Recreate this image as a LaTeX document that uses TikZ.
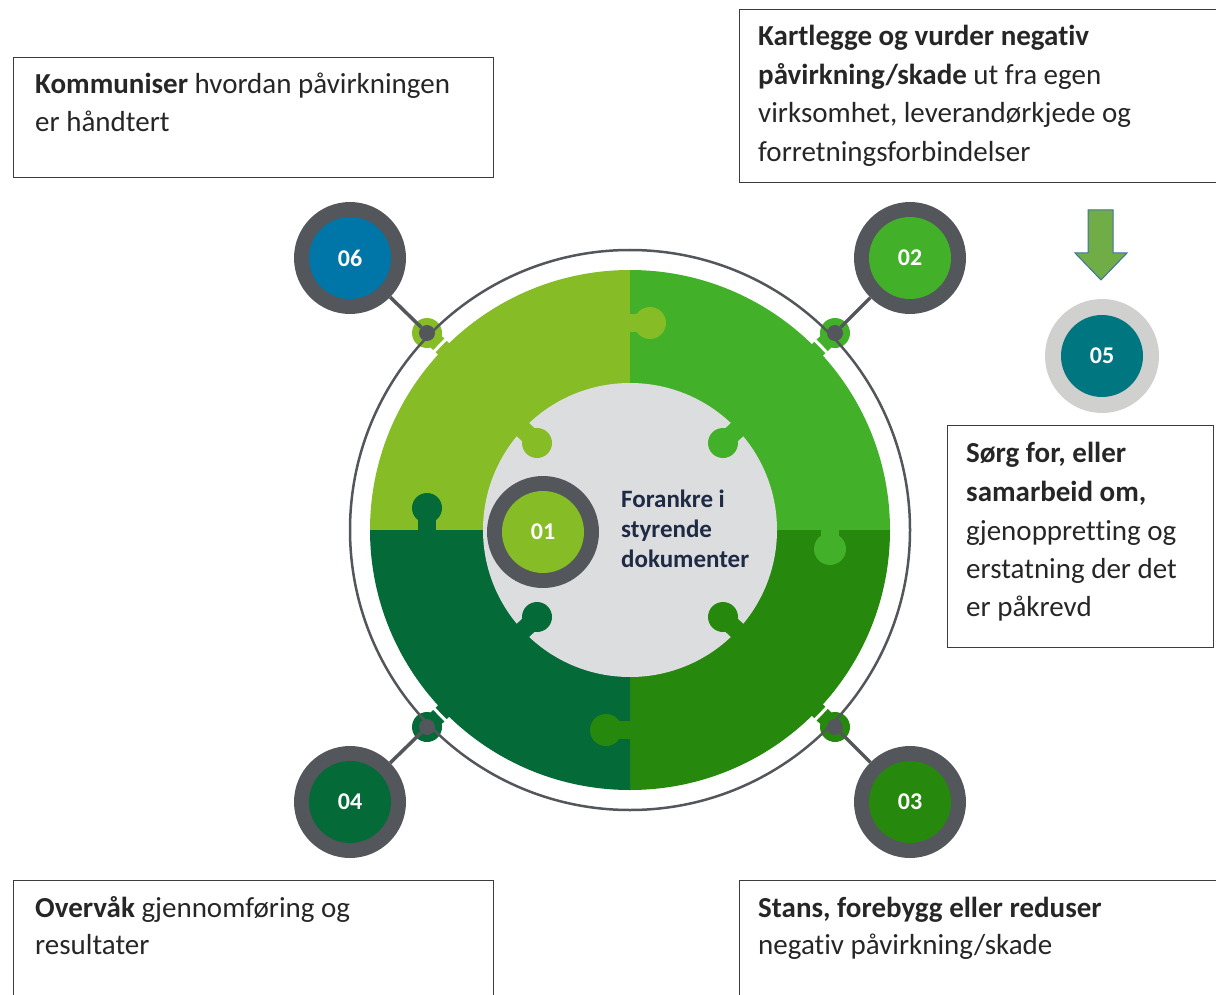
\documentclass[tikz,border=0pt]{standalone}
\usepackage{fontspec}
\setmainfont{Carlito}[Ligatures={NoCommon,NoRequired,NoContextual}]
\definecolor{gA}{HTML}{86BC25}
\definecolor{gB}{HTML}{43B02A}
\definecolor{gC}{HTML}{26890D}
\definecolor{gD}{HTML}{046A38}
\definecolor{bluC}{HTML}{0076A8}
\definecolor{tealC}{HTML}{007680}
\definecolor{dg}{HTML}{53565A}
\definecolor{lg}{HTML}{D0D0CE}
\definecolor{discC}{HTML}{DCDDDF}
\definecolor{navyC}{HTML}{1F2A44}
\definecolor{arrowF}{HTML}{70AD47}
\definecolor{arrowD}{HTML}{41719C}
\definecolor{boxD}{HTML}{3C3C3C}
\definecolor{txtC}{HTML}{262626}
\tikzset{
  numring/.style={circle, fill=dg, minimum size=112pt, inner sep=0pt},
  numcore/.style={circle, minimum size=82pt, inner sep=0pt, text=white, font=\fontsize{24}{24}\selectfont\bfseries},
  dotnode/.style={circle, fill=dg, minimum size=16pt, inner sep=0pt},
  link/.style={draw=dg, line width=3.5pt},
  txtbox/.style={draw=boxD, line width=1.4pt, anchor=north west, inner sep=0pt},
  body/.style={anchor=base west, inner sep=0pt, text=txtC, font=\fontsize{29}{38}\selectfont},
  ctext/.style={anchor=base west, inner sep=0pt, text=navyC, font=\fontsize{25}{30}\selectfont\bfseries}
}
\begin{document}
\begin{tikzpicture}[x=1pt,y=-1pt]
\useasboundingbox (0,0) rectangle (1216,995);
% quadrants
\fill[gA] (630,530) -- ++(-260pt,0pt) arc[start angle=180,end angle=90,radius=260pt] -- cycle;
\fill[gB] (630,530) -- ++(0pt,260pt) arc[start angle=90,end angle=0,radius=260pt] -- cycle;
\fill[gC] (630,530) -- ++(260pt,0pt) arc[start angle=0,end angle=-90,radius=260pt] -- cycle;
\fill[gD] (630,530) -- ++(0pt,-260pt) arc[start angle=-90,end angle=-180,radius=260pt] -- cycle;
% tabs between quadrants
\fill[gA] (628,314) rectangle (645,332);
\fill[gA] (650,323) circle[radius=16pt];
\fill[gD] (418,510) rectangle (436,532);
\fill[gD] (427,508) circle[radius=15pt];
\fill[gB] (821,528) rectangle (839,545);
\fill[gB] (830,549) circle[radius=16pt];
\fill[gC] (611,721) rectangle (632,739);
\fill[gC] (606,730) circle[radius=16pt];
% inner disc
\fill[discC] (630,530) circle[radius=147pt];
% inner knobs
\draw[gA, line width=18pt] (537,443) -- (515,422);
\fill[gA] (537,443) circle[radius=15pt];
\draw[gB, line width=18pt] (723,443) -- (745,422);
\fill[gB] (723,443) circle[radius=15pt];
\draw[gD, line width=18pt] (537,617) -- (515,638);
\fill[gD] (537,617) circle[radius=15pt];
\draw[gC, line width=18pt] (723,617) -- (745,638);
\fill[gC] (723,617) circle[radius=15pt];
% outer knobs
\draw[gA, line width=16pt] (451,356) -- (427,333);
\fill[gA] (427,333) circle[radius=15pt];
\draw[gB, line width=16pt] (810,357) -- (835,333);
\fill[gB] (835,333) circle[radius=15pt];
\draw[gD, line width=16pt] (451,704) -- (427,727);
\fill[gD] (427,727) circle[radius=15pt];
\draw[gC, line width=16pt] (810,703) -- (835,727);
\fill[gC] (835,727) circle[radius=15pt];
\draw[white, line width=3pt] (630,530) circle[radius=265pt];
% outer ring
\draw[dg, line width=2.5pt] (630,530) circle[radius=280pt];
% dots
\node[dotnode] (d06) at (427,333) {};
\node[dotnode] (d02) at (835,333) {};
\node[dotnode] (d04) at (427,727) {};
\node[dotnode] (d03) at (835,727) {};
% number circles
\node[numring] (n06) at (350,258) {};
\node[numcore, fill=bluC] (c06) at (n06) {06};
\node[numring] (n02) at (910,258) {};
\node[numcore, fill=gB] (c02) at (n02) {02};
\node[numring] (n04) at (350,802) {};
\node[numcore, fill=gD] (c04) at (n04) {04};
\node[numring] (n03) at (910,802) {};
\node[numcore, fill=gC] (c03) at (n03) {03};
\node[numring] (n01) at (543,532) {};
\node[numcore, fill=gA] (c01) at (n01) {01};
% links
\draw[link] (n06) -- (d06);
\draw[link] (n02) -- (d02);
\draw[link] (n04) -- (d04);
\draw[link] (n03) -- (d03);
% center text
\node[ctext] (t1) at (621,507) {Forankre i};
\node[ctext] (t2) at (621,537) {styrende};
\node[ctext] (t3) at (621,567) {dokumenter};
% 05
\node[circle, fill=lg, minimum size=114pt, inner sep=0pt] (n05) at (1102,356) {};
\node[numcore, fill=tealC] (c05) at (n05) {05};
\fill[arrowF, draw=arrowD, line width=1pt] (1088,210) -- (1113,210) -- (1113,253) -- (1127,253) -- (1101,280) -- (1075,253) -- (1088,253) -- cycle;
% boxes
\node[txtbox, minimum width=480pt, minimum height=120pt] (b1) at (13,57) {};
\node[body] (b1a) at (35,94) {\textbf{Kommuniser} hvordan påvirkningen};
\node[body] (b1b) at (35,132) {er håndtert};
\node[txtbox, minimum width=495pt, minimum height=173pt] (b2) at (739,9) {};
\node[body] (b2a) at (758,46) {\textbf{Kartlegge og vurder negativ}};
\node[body] (b2b) at (758,85) {\textbf{påvirkning/skade} ut fra egen};
\node[body] (b2c) at (758,123) {virksomhet, leverandørkjede og};
\node[body] (b2d) at (758,162) {forretningsforbindelser};
\node[txtbox, minimum width=266pt, minimum height=222pt] (b3) at (947,425) {};
\node[body] (b3a) at (966,462) {\textbf{Sørg for, eller}};
\node[body] (b3b) at (966,501) {\textbf{samarbeid om,}};
\node[body] (b3c) at (966,540) {gjenoppretting og};
\node[body] (b3d) at (966,578) {erstatning der det};
\node[body] (b3e) at (966,616) {er påkrevd};
\node[txtbox, minimum width=480pt, minimum height=140pt] (b4) at (13,880) {};
\node[body] (b4a) at (35,917) {\textbf{Overvåk} gjennomføring og};
\node[body] (b4b) at (35,954) {resultater};
\node[txtbox, minimum width=495pt, minimum height=140pt] (b5) at (739,880) {};
\node[body] (b5a) at (758,917) {\textbf{Stans, forebygg eller reduser}};
\node[body] (b5b) at (758,954) {negativ påvirkning/skade};
\end{tikzpicture}
\end{document}
